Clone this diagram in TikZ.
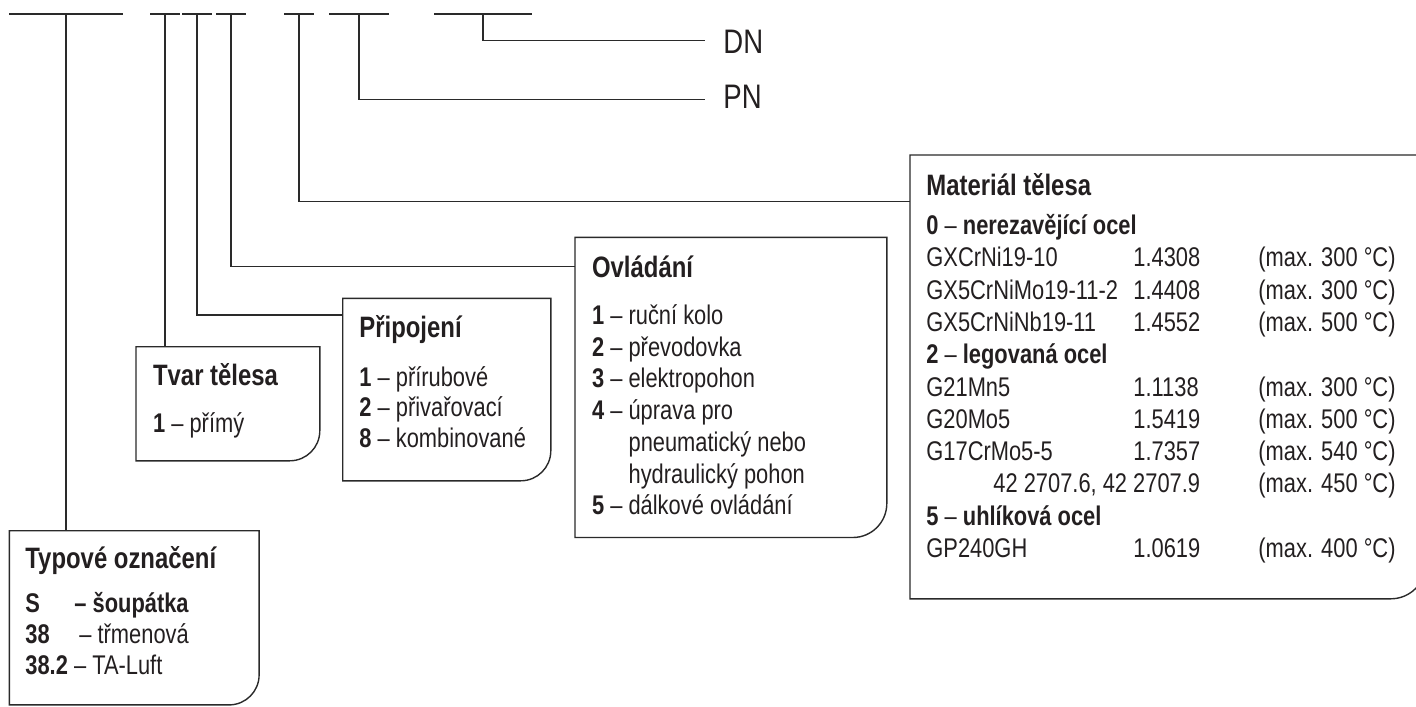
\documentclass[tikz,border=0pt]{standalone}
\usepackage{fontspec}
\setmainfont{Liberation Sans}[FakeStretch=0.81]
\definecolor{ink}{HTML}{231F20}
\definecolor{lncol}{HTML}{2A2A2A}
\newcommand\rboxoutline[2]{%
  \draw[conn] (#1.north west) -- (#1.north east) -- ([yshift=#2]#1.south east)
    .. controls ([yshift=0.448*#2]#1.south east) and ([xshift=-0.448*#2]#1.south east) ..
    ([xshift=-#2]#1.south east) -- (#1.south west) -- cycle;}
\begin{document}
\begin{tikzpicture}[x=0.5pt,y=-0.5pt,
  conn/.style={draw=lncol, line width=0.7pt},
  boxn/.style={draw=none, rectangle, inner sep=0pt, anchor=north west},
  body/.style={anchor=base west, inner sep=0pt, text=ink, font=\fontsize{13.5pt}{16pt}\selectfont},
  ttl/.style={anchor=base west, inner sep=0pt, text=ink, font=\fontsize{14.75pt}{17pt}\selectfont\bfseries},
  lbl/.style={anchor=base west, inner sep=0pt, text=ink, font=\fontsize{17pt}{20pt}\selectfont}]
\useasboundingbox (0,0) rectangle (1416,706);

% ---- top code segments ----
\coordinate (s1a) at (9,14);   \coordinate (s1b) at (123,14);  \coordinate (v1) at (66,14);
\coordinate (s2a) at (150,14); \coordinate (s2b) at (180,14);  \coordinate (v2) at (165,14);
\coordinate (s3a) at (182,14); \coordinate (s3b) at (212,14);  \coordinate (v3) at (197,14);
\coordinate (s4a) at (216,14); \coordinate (s4b) at (246,14);  \coordinate (v4) at (231,14);
\coordinate (s5a) at (284,14); \coordinate (s5b) at (314,14);  \coordinate (v5) at (299,14);
\coordinate (s6a) at (329,14); \coordinate (s6b) at (389,14);  \coordinate (v6) at (359,14);
\coordinate (s7a) at (434,14); \coordinate (s7b) at (532,14);  \coordinate (v7) at (483,14);
\foreach \k in {1,...,7} {\draw[conn] (s\k a) -- (s\k b);}

% ---- boxes ----
\node[boxn, minimum width=124.5pt, minimum height=86.7pt] (typ) at (9.3,530.7) {};
\node[boxn, minimum width=91.5pt, minimum height=56.65pt] (tvar) at (136,346.7) {};
\node[boxn, minimum width=103.65pt, minimum height=90.85pt] (prip) at (342.7,298.3) {};
\node[boxn, minimum width=155.5pt, minimum height=149.7pt] (ovl) at (575,237.3) {};
\node[boxn, minimum width=257.5pt, minimum height=221.5pt] (mat) at (910,155) {};
\rboxoutline{typ}{15pt}
\rboxoutline{tvar}{15pt}
\rboxoutline{prip}{15pt}
\rboxoutline{ovl}{17pt}
\rboxoutline{mat}{17.5pt}

% ---- connectors ----
\coordinate (prip-in) at (342.7,315);
\coordinate (ovl-in) at (575,266.7);
\coordinate (mat-in) at (910,201.7);
\coordinate (pn-end) at (705,99.3);
\coordinate (dn-end) at (705,40.7);
\draw[conn] (v1) -- (v1 |- typ.north);
\draw[conn] (v2) -- (v2 |- tvar.north);
\draw[conn] (v3) |- (prip-in);
\draw[conn] (v4) |- (ovl-in);
\draw[conn] (v5) |- (mat-in);
\draw[conn] (v6) |- (pn-end);
\draw[conn] (v7) |- (dn-end);

% ---- DN / PN ----
\node[lbl] (dn) at (723,54) {DN};
\node[lbl] (pn) at (723,109) {PN};

% ---- Typové označení ----
\node[ttl] (typt) at (25,568.5) {Typové označení};
\node[body] (typk1) at (25,612.5) {\textbf{S}};
\node[body] (typv1) at (74,612.5) {\textbf{– šoupátka}};
\node[body] (typk2) at (25,643.5) {\textbf{38}};
\node[body] (typv2) at (79,643.5) {– třmenová};
\node[body] (typk3) at (25,674.5) {\textbf{38.2} – TA-Luft};

% ---- Tvar tělesa ----
\node[ttl] (tvart) at (152.7,385.5) {Tvar tělesa};
\node[body] (tvar1) at (152.7,432.5) {\textbf{1} – přímý};

% ---- Připojení ----
\node[ttl] (pript) at (359,337) {Připojení};
\node[body] (prip1) at (359,386) {\textbf{1} – přírubové};
\node[body] (prip2) at (359,416.5) {\textbf{2} – přivařovací};
\node[body] (prip3) at (359,447) {\textbf{8} – kombinované};

% ---- Ovládání ----
\node[ttl] (ovlt) at (591.7,277) {Ovládání};
\node[body] (ovl1) at (591.7,324.5) {\textbf{1} – ruční kolo};
\node[body] (ovl2) at (591.7,356.2) {\textbf{2} – převodovka};
\node[body] (ovl3) at (591.7,387.9) {\textbf{3} – elektropohon};
\node[body] (ovl4) at (591.7,419.6) {\textbf{4} – úprava pro};
\node[body] (ovl5) at (591.7,451.3) {\phantom{\textbf{4} – }pneumatický nebo};
\node[body] (ovl6) at (591.7,483.0) {\phantom{\textbf{4} – }hydraulický pohon};
\node[body] (ovl7) at (591.7,514.7) {\textbf{5} – dálkové ovládání};

% ---- Materiál tělesa ----
\node[ttl] (matt) at (926,195.5) {Materiál tělesa};
\node[body] (mh0) at (926,234.5) {\textbf{0} – \textbf{nerezavějící ocel}};
\node[body] (mh4) at (926,234.5+32.3*4) {\textbf{2} – \textbf{legovaná ocel}};
\node[body] (mh9) at (926,234.5+32.3*9) {\textbf{5} – \textbf{uhlíková ocel}};
\foreach \i/\a/\b/\c in {1/GXCrNi19-10/1.4308/300, 2/GX5CrNiMo19-11-2/1.4408/300,
  3/GX5CrNiNb19-11/1.4552/500, 5/G21Mn5/1.1138/300, 6/G20Mo5/1.5419/500,
  7/G17CrMo5-5/1.7357/540, 10/GP240GH/1.0619/400} {
  \node[body] (ma\i) at (926,234.5+32.3*\i) {\a};
  \node[body] (mb\i) at (1133,234.5+32.3*\i) {\b};
  \node[body] (mc\i) at (1258,234.5+32.3*\i) {(max. \c\ °C)};
}
\node[body] (ma8) at (993,234.5+32.3*8) {42 2707.6, 42 2707.9};
\node[body] (mc8) at (1258,234.5+32.3*8) {(max. 450 °C)};
\end{tikzpicture}
\end{document}
